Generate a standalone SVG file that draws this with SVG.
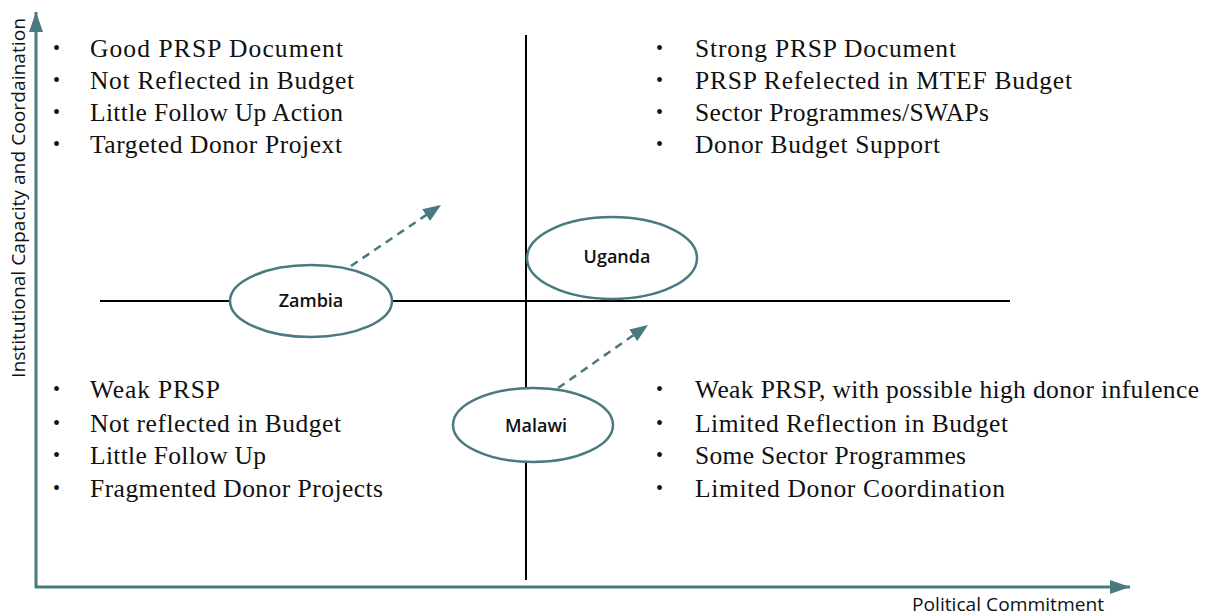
<svg xmlns="http://www.w3.org/2000/svg" width="1210" height="615" viewBox="0 0 1210 615">
<defs>
<style>
.t{font-family:"Liberation Serif","Times New Roman",serif;font-size:25.5px;fill:#111}
.b{font-family:"Liberation Serif","Times New Roman",serif;font-size:20px;fill:#111}
.lbl{font-family:"Open Sans","Noto Sans",sans-serif;font-size:18px;font-weight:600;fill:#111;text-anchor:middle}
.ax{font-family:"Open Sans","Noto Sans",sans-serif;font-size:18px;fill:#111}
.ell{fill:#fff;stroke:#4a7a80;stroke-width:2.5}
.q{stroke:#000;stroke-width:2;fill:none}
.axis{stroke:#4a7a80;stroke-width:3;fill:none}
.dash{stroke:#4a7a80;stroke-width:2.5;stroke-dasharray:8,6;fill:none}
</style>
<marker id="axh" markerWidth="20" markerHeight="14" refX="20" refY="7" orient="auto" markerUnits="userSpaceOnUse" viewBox="0 0 20 14"><path d="M0,0 L20,7 L0,14 z" fill="#4a7a80"/></marker>
<marker id="dh" markerWidth="18" markerHeight="14" refX="18" refY="7" orient="auto" markerUnits="userSpaceOnUse" viewBox="0 0 18 14"><path d="M0,0 L18,7 L0,14 z" fill="#4a7a80"/></marker>
</defs>
<rect width="1210" height="615" fill="#fff"/>
<g id="axes">
<line class="axis" x1="36" y1="588" x2="36" y2="12" marker-end="url(#axh)"/>
<line class="axis" x1="35" y1="587" x2="1130" y2="587" marker-end="url(#axh)"/>
<text class="ax" x="912" y="611" textLength="192" lengthAdjust="spacingAndGlyphs">Political Commitment</text>
<text class="ax" transform="translate(25,198) rotate(-90)" text-anchor="middle" textLength="360" lengthAdjust="spacingAndGlyphs">Institutional Capacity and Coordaination</text>
</g>
<g id="quadrants">
<line class="q" x1="526" y1="35" x2="526" y2="580"/>
<line class="q" x1="100" y1="301" x2="1010" y2="301"/>
</g>
<g id="top-left">
<text class="b" x="53" y="55">•</text><text class="t" x="90" y="57" textLength="253">Good PRSP Document</text>
<text class="b" x="53" y="87">•</text><text class="t" x="90" y="89" textLength="264">Not Reflected in Budget</text>
<text class="b" x="53" y="119">•</text><text class="t" x="90" y="121" textLength="253">Little Follow Up Action</text>
<text class="b" x="53" y="151">•</text><text class="t" x="90" y="153" textLength="252">Targeted Donor Projext</text>
</g>
<g id="top-right">
<text class="b" x="656" y="55">•</text><text class="t" x="695" y="57" textLength="261">Strong PRSP Document</text>
<text class="b" x="656" y="87">•</text><text class="t" x="695" y="89" textLength="377">PRSP Refelected in MTEF Budget</text>
<text class="b" x="656" y="119">•</text><text class="t" x="695" y="121" textLength="294">Sector Programmes/SWAPs</text>
<text class="b" x="656" y="151">•</text><text class="t" x="695" y="153" textLength="245">Donor Budget Support</text>
</g>
<g id="bottom-left">
<text class="b" x="53" y="396">•</text><text class="t" x="90" y="398" textLength="130">Weak PRSP</text>
<text class="b" x="53" y="430">•</text><text class="t" x="90" y="432" textLength="251">Not reflected in Budget</text>
<text class="b" x="53" y="462">•</text><text class="t" x="90" y="464" textLength="176">Little Follow Up</text>
<text class="b" x="53" y="495">•</text><text class="t" x="90" y="497" textLength="293">Fragmented Donor Projects</text>
</g>
<g id="bottom-right">
<text class="b" x="656" y="396">•</text><text class="t" x="695" y="398" textLength="504">Weak PRSP, with possible high donor infulence</text>
<text class="b" x="656" y="430">•</text><text class="t" x="695" y="432" textLength="313">Limited Reflection in Budget</text>
<text class="b" x="656" y="462">•</text><text class="t" x="695" y="464" textLength="271">Some Sector Programmes</text>
<text class="b" x="656" y="495">•</text><text class="t" x="695" y="497" textLength="310">Limited Donor Coordination</text>
</g>
<g id="connectors">
<line class="dash" x1="351" y1="266" x2="441" y2="205" marker-end="url(#dh)"/>
<line class="dash" x1="558" y1="388" x2="648" y2="325" marker-end="url(#dh)"/>
</g>
<g id="zambia">
<ellipse class="ell" cx="311" cy="301" rx="81" ry="36"/>
<text class="lbl" x="311" y="307">Zambia</text>
</g>
<g id="uganda">
<ellipse class="ell" cx="612" cy="258" rx="85" ry="41"/>
<text class="lbl" x="617" y="263">Uganda</text>
</g>
<g id="malawi">
<ellipse class="ell" cx="533" cy="425" rx="80" ry="37"/>
<text class="lbl" x="536" y="432">Malawi</text>
</g>
</svg>
